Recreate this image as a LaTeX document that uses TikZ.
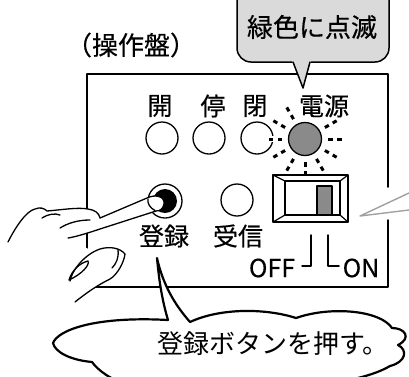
\documentclass[tikz,border=0pt]{standalone}
\usepackage{fontspec}
\setmainfont{Noto Sans CJK JP}
\newfontfamily\labelfont[FakeBold=0.4]{Noto Sans CJK JP}
\definecolor{ledgray}{HTML}{8A8A8A}
\definecolor{calloutgray}{HTML}{DADADA}
\definecolor{wedgegray}{HTML}{A0A0A0}
\tikzset{
  panelline/.style={line width=1.5pt},
  lamp/.style={circle, draw, line width=1.3pt, minimum size=32pt, inner sep=0pt, outer sep=0pt},
  lbl/.style={inner sep=0pt, font=\labelfont\fontsize{25pt}{25pt}\selectfont},
  bigtext/.style={inner sep=0pt, font=\labelfont\fontsize{26pt}{26pt}\selectfont},
  saytext/.style={inner sep=0pt, font=\fontsize{26pt}{26pt}\selectfont},
  ray/.style={line width=3pt, line cap=butt},
  handline/.style={line width=1.3pt},
  bubble/.style={line width=2.2pt, fill=white},
  boxnode/.style={draw, inner sep=0pt, outer sep=0pt}
}
\begin{document}
\begin{tikzpicture}[x=1pt, y=-1pt, line join=round, line cap=round]
\useasboundingbox (0,0) rectangle (409,376);
\clip (0,0) rectangle (409,376);

% control panel frame
\draw[panelline] (87,74) -- (388,74) -- (388,187);
\draw[panelline] (388,220) -- (388,287) -- (87,287) -- (87,74);

% heading
\node[bigtext] (title) at (131,45) {（操作盤）};

% indicator labels and lamps
\node[lbl] (lopen)  at (160,106) {開};
\node[lbl] (lstop)  at (213,106) {停};
\node[lbl] (lclose) at (255,106) {閉};
\node[lbl] (lpower) at (324,106) {電源};
\node[lamp] (open)  at (162,138) {};
\node[lamp] (stop)  at (209,138) {};
\node[lamp] (close) at (257,138) {};
\node[lamp, fill=ledgray, minimum size=33pt] (power) at (305,139) {};

% blinking rays around the power lamp
\draw[white, line width=6pt, line cap=butt] (power.center) ++(180:22) -- ++(180:17);
\foreach \a in {0,-30,-120,-150,180,150,120,90,60,30}{
  \draw[ray] (power.center) ++(\a:23) -- ++(\a:4.5) ++(\a:4.5) -- ++(\a:4.5);
}

% power switch
\node[boxnode, line width=1.6pt, minimum width=75pt, minimum height=47pt] (sw) at (310.5,198.5) {};
\node[boxnode, line width=1.2pt, minimum width=55pt, minimum height=34pt] (swin) at (312.5,198) {};
\draw[line width=1.2pt] (sw.north west) -- (swin.north west)
  (sw.north east) -- (swin.north east)
  (sw.south west) -- (swin.south west)
  (sw.south east) -- (swin.south east);
\node[boxnode, line width=1.2pt, fill=ledgray, minimum width=15pt, minimum height=29pt] (slider) at (324.5,200.5) {};

% OFF / ON marks
\node[lbl] (off) at (272,268) {OFF};
\node[lbl] (on)  at (361,268) {ON};
\coordinate (offtop) at (311,235);
\coordinate (offend) at (302,266);
\coordinate (ontop) at (328,235);
\coordinate (onend) at (339,266);
\draw[panelline] (offtop) |- (offend);
\draw[panelline] (ontop) |- (onend);

% pointer toward the switch
\coordinate (wtip) at (360,216);
\coordinate (wup) at (409,193);
\coordinate (wlow) at (409,210);
\draw[wedgegray, line width=1.4pt] (wup) -- (wtip) -- (wlow);

% register / receive buttons
\node[lamp, minimum size=34pt] (reg) at (165,201) {};
\node[circle, fill=black, minimum size=24pt, inner sep=0pt] (regcore) at (reg.center) {};
\node[lamp] (recv) at (237,200) {};
\node[lbl] (lreg)  at (164,236) {登録};
\node[lbl] (lrecv) at (238,236) {受信};

% status callout
\draw[line width=1.5pt, fill=calloutgray, rounded corners=14pt] (237,-20) rectangle (389,62);
\coordinate (ctip) at (303,88);
\fill[calloutgray] (292,61) -- (ctip) -- (311,61) -- cycle;
\draw[line width=1.5pt] (293,62) -- (ctip) -- (310,62);
\node[bigtext] (msg) at (312,27) {緑色に点滅};

% hand pressing the button
\fill[white] (8,242) .. controls (15,228) and (26,211) .. (35,209)
  .. controls (40,207) and (44,208) .. (47,211)
  .. controls (60,210) and (78,207) .. (88,209)
  .. controls (95,210) and (99,213) .. (100,218) -- (147,198)
  .. controls (155,194) and (165,196) .. (164,204)
  .. controls (163,209) and (160,211) .. (156,211) -- (100,229) -- (70,238) -- (90,250)
  -- (100,249) .. controls (110,247) and (120,248) .. (125,254)
  .. controls (124,262) and (118,274) .. (110,279)
  .. controls (100,284) and (90,290) .. (75,302) -- (0,302) -- (0,242) -- cycle;
\draw[handline] (8,242) .. controls (15,228) and (26,211) .. (35,209)
  .. controls (40,207) and (44,208) .. (47,211)
  .. controls (60,210) and (78,207) .. (88,209)
  .. controls (95,210) and (99,213) .. (100,218) -- (147,198)
  .. controls (155,194) and (165,196) .. (164,204)
  .. controls (163,209) and (160,211) .. (156,211) -- (100,229)
  .. controls (88,233) and (75,237) .. (68,238);
\draw[handline] (148,199) .. controls (147,203) and (150,208) .. (155,210.5);
\draw[handline] (42,218) .. controls (48,214) and (55,213) .. (60,215);
\draw[handline] (60,228) .. controls (68,223) and (78,220) .. (90,220);
\draw[handline] (70,281) .. controls (72,270) and (85,254) .. (100,249)
  .. controls (110,246) and (120,248) .. (125,254)
  .. controls (124,262) and (118,274) .. (110,279)
  .. controls (100,284) and (90,290) .. (75,302);
\draw[handline] (69,280) .. controls (72,270) and (80,263) .. (88,261)
  .. controls (90,265) and (82,274) .. (69,280);
\draw[handline] (118,250) .. controls (119,258) and (116,264) .. (112,268);

% speech bubble
\draw[bubble] (53,343) .. controls (58,330) and (95,316) .. (168,320)
  .. controls (162,300) and (159,280) .. (157,258)
  .. controls (163,285) and (175,305) .. (190,322)
  .. controls (220,308) and (265,308) .. (296,318)
  .. controls (330,306) and (380,310) .. (392,328)
  .. controls (405,328) and (412,338) .. (398,345)
  .. controls (408,350) and (406,362) .. (390,366)
  .. controls (370,378) and (330,385) .. (300,385) -- (130,385)
  .. controls (110,380) and (98,370) .. (92,362)
  .. controls (70,360) and (55,352) .. (53,343) -- cycle;
\node[saytext] (say) at (273,344) {登録ボタンを押す。};
\end{tikzpicture}
\end{document}
